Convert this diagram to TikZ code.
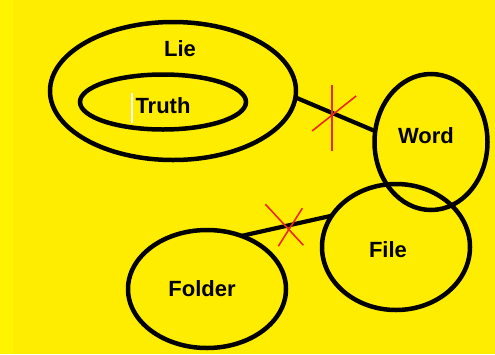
\documentclass[tikz,border=0pt]{standalone}
\usepackage{fontspec}
\setmainfont{Liberation Sans}
\usetikzlibrary{shapes.geometric}
\definecolor{bgyellow}{RGB}{255,237,0}
\definecolor{stripyellow}{RGB}{255,244,0}
\definecolor{crossred}{RGB}{235,40,30}
\begin{document}
\begin{tikzpicture}[x=1pt,y=-1pt,
  blob/.style={draw=black,line width=4.5pt,ellipse,inner sep=0pt,outer sep=0pt},
  lbl/.style={font=\bfseries\fontsize{22}{22}\selectfont,text=black,inner sep=0pt},
  link/.style={draw=black,line width=4.2pt},
  cross/.style={draw=crossred,line width=1.6pt}]
\useasboundingbox (0,0) rectangle (495,354);
\fill[bgyellow] (0,0) rectangle (495,354);
\fill[stripyellow] (0,0) rectangle (13,354);
% ellipses
\node[blob,minimum width=246pt,minimum height=138pt] (lie) at (173,91) {};
\node[blob,minimum width=166pt,minimum height=55pt] (truth) at (163,102) {};
\node[blob,minimum width=113pt,minimum height=136pt] (word) at (431,142) {};
\node[blob,minimum width=148pt,minimum height=126pt] (file) at (396,247) {};
\node[blob,minimum width=158pt,minimum height=118pt] (folder) at (207,289) {};
% labels
\node[lbl] (lielbl) at (180,49) {Lie};
\node[lbl] (truthlbl) at (163,106) {Truth};
\node[lbl] (wordlbl) at (426,136) {Word};
\node[lbl] (filelbl) at (388,250) {File};
\node[lbl] (folderlbl) at (202,289) {Folder};
% cursor
\draw[white,line width=1.4pt] (132,93) -- (132,123);
% connectors
\draw[link] (lie.-3) -- coordinate[pos=0.46] (x1) (word.169);
\draw[link] (folder.57) -- coordinate[pos=0.53] (x2) (file.154);
% red crosses
\draw[cross] ([shift={(0,-28)}]x1) -- ([shift={(0,38)}]x1);
\draw[cross] ([shift={(-20,18)}]x1) -- ([shift={(24,-17)}]x1);
\draw[cross] ([shift={(-24,-21)}]x2) -- ([shift={(14,20)}]x2);
\draw[cross] ([shift={(-11,21)}]x2) -- ([shift={(13,-17)}]x2);
\end{tikzpicture}
\end{document}
